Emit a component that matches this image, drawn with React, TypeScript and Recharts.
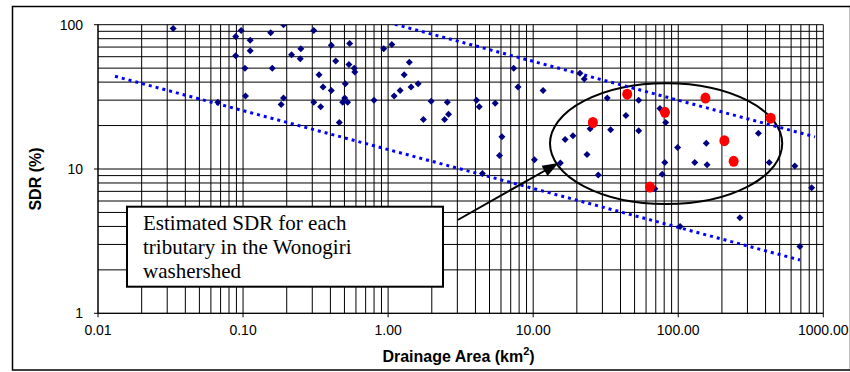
import { ScatterChart, Scatter, XAxis, YAxis, CartesianGrid, ReferenceArea } from "recharts";

// drainage area (km2) / SDR (%) for the reference catchments
const siteArea = [
  0.033, 0.089, 0.097, 0.089, 0.112, 0.112, 0.103, 0.104, 0.067, 0.155,
  0.19, 0.159, 0.183, 0.19, 0.216, 0.25, 0.248, 0.307, 0.307, 0.334,
  0.356, 0.343, 0.406, 0.435, 0.406, 0.507, 0.502, 0.486, 0.526, 0.461,
  0.543, 0.537, 0.584, 0.589, 0.799, 0.932, 1.06, 1.1, 1.21, 1.4,
  1.29, 1.44, 1.61, 1.75, 1.98, 2.56, 2.45, 2.61, 7.34, 7.86,
  11.7, 4.07, 4.25, 5.47, 6.09, 5.86, 4.47, 10.2, 21, 22.5,
  32.4, 53.4, 43.6, 24.7, 34.2, 53.4, 16.6, 18.8, 23.5, 15.4,
  28.1, 74.8, 81.9, 99, 80.8, 77.5, 130, 156, 158, 357,
  424, 636, 831, 69, 103, 266, 690,
];
const siteSdr = [
  94, 83, 91, 61, 78, 66, 50, 32, 29, 88,
  100, 50, 28, 31, 62, 68, 58, 91, 29, 45,
  37, 27, 72, 56, 35, 39, 31, 29, 29, 21,
  74, 53, 50, 47, 30, 68, 73, 32, 35, 55,
  45, 37, 39, 22, 29.5, 29, 22, 24, 50, 37,
  35, 30, 27, 28.6, 16.7, 12.4, 9.3, 11.6, 46, 42,
  31, 30, 23.5, 19, 18.7, 18.4, 16, 17, 12.6, 11,
  9.1, 26.3, 21, 14.1, 11.1, 9.2, 11.1, 15.1, 10.7, 17.7,
  11.1, 10.5, 7.4, 7.3, 4, 4.6, 2.9,
];

// Wonogiri tributaries
const wonogiriArea = [25.8, 44.5, 63.8, 81, 154, 208, 241, 434];
const wonogiriSdr = [21, 33, 7.5, 24.7, 31, 15.7, 11.3, 22.5];

// envelope lines (start / end)
const upperArea = [1.0, 876];
const upperSdr = [103.6, 16.7];
const lowerArea = [0.0131, 690];
const lowerSdr = [43.9, 2.34];

// ellipse around the Wonogiri points
const ellipseArea = [13.06, 521];
const ellipseSdr = [5.72, 39.3];

const X_LABELS = [0.01, 0.1, 1, 10, 100, 1000];
const Y_LABELS = [1, 10, 100];
const MULT = [1, 2, 3, 4, 5, 6, 7, 8, 9];

const X_TICKS = [-2, -1, 0, 1, 2]
  .flatMap((e) => MULT.map((m) => +(m * Math.pow(10, e)).toPrecision(3)))
  .concat([1000]);
const Y_TICKS = [0, 1].flatMap((e) => MULT.map((m) => m * Math.pow(10, e))).concat([100]);

const sites = siteArea.map((a, i) => ({ area: a, sdr: siteSdr[i] }));
const wonogiri = wonogiriArea.map((a, i) => ({ area: a, sdr: wonogiriSdr[i] }));
const upper = upperArea.map((a, i) => ({ area: a, sdr: upperSdr[i] }));
const lower = lowerArea.map((a, i) => ({ area: a, sdr: lowerSdr[i] }));

const isMajor = (list: number[], v: number) => list.some((m) => Math.abs(m - v) / m < 1e-6);

const TICK_FONT = { fontFamily: "'Liberation Sans', Arial, sans-serif", fontSize: 14, fill: "#000" };

const XTick = ({ x, y, payload }: any) => {
  if (!isMajor(X_LABELS, payload.value)) return <g />;
  return (
    <g>
      <line x1={x} x2={x} y1={y - 12} y2={y - 8} stroke="#000" />
      <text x={x} y={y} dy="0.71em" textAnchor="middle" {...TICK_FONT}>
        {payload.value.toFixed(2)}
      </text>
    </g>
  );
};

const YTick = ({ x, y, payload }: any) => {
  if (!isMajor(Y_LABELS, payload.value)) return <g />;
  return (
    <g>
      <line x1={x + 11} x2={x + 15} y1={y} y2={y} stroke="#000" />
      <text x={x} y={y} dy="0.355em" textAnchor="end" {...TICK_FONT}>
        {Math.round(payload.value)}
      </text>
    </g>
  );
};

const Diamond = ({ cx, cy }: any) => (
  <polygon
    points={`${cx},${cy - 3.5} ${cx + 3.5},${cy} ${cx},${cy + 3.5} ${cx - 3.5},${cy}`}
    fill="#000080"
  />
);

const RedDot = ({ cx, cy }: any) => <ellipse cx={cx} cy={cy} rx={5} ry={5.5} fill="#FF0000" />;

const EllipseShape = ({ x, y, width, height }: any) => (
  <ellipse
    cx={x + width / 2}
    cy={y + height / 2}
    rx={width / 2}
    ry={height / 2}
    fill="none"
    stroke="#000"
    strokeWidth={2}
  />
);

const dotted = { stroke: "#0000FF", strokeWidth: 3, strokeDasharray: "3 4" };

export default function App() {
  return (
    <div style={{ position: "absolute", left: 0, top: 0, width: 850, height: 372, background: "#fff" }}>
      <ScatterChart
        width={850}
        height={372}
        margin={{ top: 24.7, right: 26.7, bottom: 28.7, left: 8 }}
      >
        <CartesianGrid stroke="#000" strokeWidth={1} />
        <XAxis
          type="number"
          dataKey="area"
          scale="log"
          domain={[0.01, 1000]}
          ticks={X_TICKS}
          interval={0}
          allowDataOverflow
          height={30}
          tickSize={4}
          tickMargin={8}
          tickLine={false}
          tick={<XTick />}
          axisLine={{ stroke: "#000" }}
        />
        <YAxis
          type="number"
          dataKey="sdr"
          scale="log"
          domain={[1, 100]}
          ticks={Y_TICKS}
          interval={0}
          allowDataOverflow
          width={90}
          tickSize={4}
          tickMargin={11}
          tickLine={false}
          tick={<YTick />}
          axisLine={{ stroke: "#000" }}
        />
        <Scatter data={lower} line={dotted} shape={() => <g />} isAnimationActive={false} />
        <Scatter data={upper} line={dotted} shape={() => <g />} isAnimationActive={false} />
        <Scatter data={sites} shape={<Diamond />} isAnimationActive={false} />
        <Scatter data={wonogiri} shape={<RedDot />} isAnimationActive={false} />
        <ReferenceArea
          x1={ellipseArea[0]}
          x2={ellipseArea[1]}
          y1={ellipseSdr[0]}
          y2={ellipseSdr[1]}
          shape={<EllipseShape />}
        />
      </ScatterChart>
      <svg
        width={850}
        height={372}
        style={{ position: "absolute", left: 0, top: 0, pointerEvents: "none" }}
      >
        <rect x={12.5} y={6.5} width={838} height={363.5} fill="none" stroke="#000" strokeWidth={1.5} />
        <text
          x={35}
          y={179}
          transform="rotate(-90 35 179)"
          textAnchor="middle"
          dominantBaseline="central"
          fontFamily="'Liberation Sans', Arial, sans-serif"
          fontWeight="bold"
          fontSize={16}
        >
          SDR (%)
        </text>
        <text
          x={458.5}
          y={362}
          textAnchor="middle"
          fontFamily="'Liberation Sans', Arial, sans-serif"
          fontWeight="bold"
          fontSize={16}
        >
          Drainage Area (km<tspan fontSize={11} dy={-7}>2</tspan>
          <tspan dy={7}>)</tspan>
        </text>
        <line x1={457.7} y1={220} x2={546} y2={170} stroke="#000" strokeWidth={2} />
        <polygon points="558.5,163 547.5,176.1 541.6,165.7" fill="#000" />
        <rect x={127} y={206.7} width={316} height={80} fill="#fff" stroke="#000" strokeWidth={2} />
        <g fontFamily="'Liberation Serif', 'Times New Roman', serif" fontSize={21} fill="#000">
          <text x={143} y={230}>Estimated SDR for each</text>
          <text x={143} y={254}>tributary in the Wonogiri</text>
          <text x={143} y={277.5}>washershed</text>
        </g>
      </svg>
    </div>
  );
}
